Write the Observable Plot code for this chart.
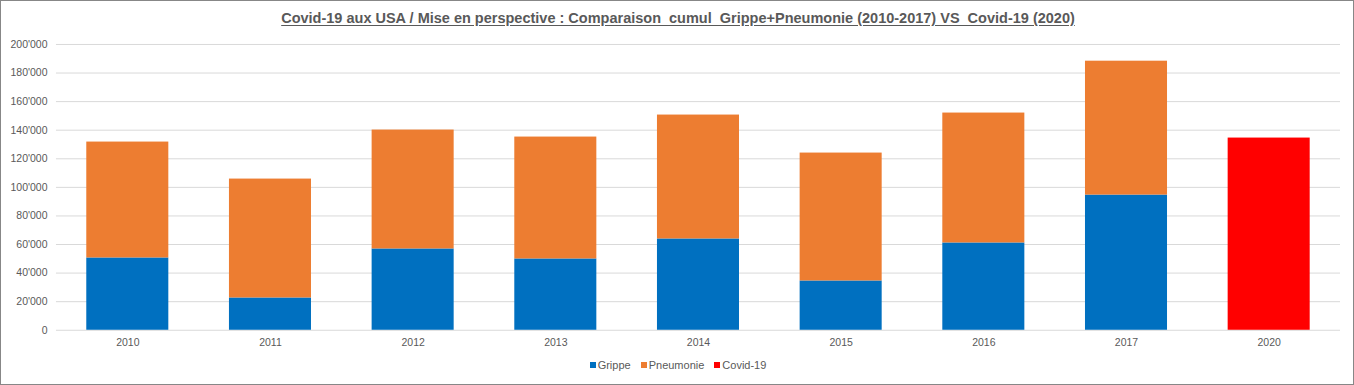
<!DOCTYPE html>
<html>
<head>
<meta charset="utf-8">
<script src="https://cdn.jsdelivr.net/npm/d3@7"></script>
<script src="https://cdn.jsdelivr.net/npm/@observablehq/plot@0.6"></script>
<style>
  html, body { margin: 0; padding: 0; background: #fff; }
  #chart {
    position: relative; width: 1354px; height: 385px; box-sizing: border-box;
    border: 1px solid #878787; overflow: hidden; background: #fff;
  }
  #title {
    position: absolute; left: 0; top: 9px; width: 1354px; text-align: center;
    font-family: "Liberation Sans Narrow", "Arial Narrow", "Liberation Sans", Arial, sans-serif;
    font-weight: bold; font-size: 14.5px; color: #595959; text-decoration: underline;
    text-underline-offset: 2px;
  }
  #plot { position: absolute; left: -1px; top: -1px; }
  #legend {
    position: absolute; left: 0; top: 358px; width: 1354px; display: flex; justify-content: center;
    font-family: "Liberation Sans", Arial, sans-serif; font-size: 11px; color: #595959;
  }
  .item { display: flex; align-items: center; margin: 0 5px; }
  .sw { width: 6px; height: 6px; margin-right: 2px; }
</style>
</head>
<body>
<div id="chart">
  <div id="title">Covid-19 aux USA / Mise en perspective : Comparaison&nbsp; cumul&nbsp; Grippe+Pneumonie (2010-2017) VS&nbsp; Covid-19 (2020)</div>
  <div id="plot"></div>
  <div id="legend"></div>
</div>
<script>
const years = ["2010","2011","2012","2013","2014","2015","2016","2017","2020"];
const series = ["Grippe","Pneumonie","Covid-19"];
const colors = ["#0070c0","#ed7d31","#ff0000"];
const grippe    = [50600, 22600, 56900, 49900, 63900, 34500, 61100, 94600, 0];
const pneumonie = [81100, 83200, 83200, 85300, 86700, 89500, 90900, 93700, 0];
const covid     = [0, 0, 0, 0, 0, 0, 0, 0, 134500];
const yTicks = [0, 20000, 40000, 60000, 80000, 100000, 120000, 140000, 160000, 180000, 200000];

const rows = [];
years.forEach((yr, i) => {
  if (grippe[i]) rows.push({year: yr, series: "Grippe", value: grippe[i]});
  if (pneumonie[i]) rows.push({year: yr, series: "Pneumonie", value: pneumonie[i]});
  if (covid[i]) rows.push({year: yr, series: "Covid-19", value: covid[i]});
});

const fmt = d3.formatLocale({decimal: ".", thousands: "'", grouping: [3], currency: ["", ""]}).format(",");

const chart = Plot.plot({
  width: 1354,
  height: 356,
  marginTop: 44,
  marginBottom: 26,
  marginLeft: 56,
  marginRight: 13,
  style: {fontFamily: "'Liberation Sans', Arial, sans-serif", fontSize: "10.5px", color: "#595959", background: "transparent"},
  x: {domain: years, paddingInner: 0.425, paddingOuter: 0.2125, round: false, label: null, tickSize: 0, tickPadding: 8},
  y: {domain: [0, 200000], ticks: yTicks, tickFormat: fmt, label: null, tickSize: 0, tickPadding: 9},
  color: {domain: series, range: colors},
  marks: [
    Plot.ruleY(yTicks, {stroke: "#d9d9d9", strokeWidth: 1}),
    Plot.barY(rows, {x: "year", y: "value", fill: "series", order: series}),
    Plot.axisX({tickSize: 0, tickPadding: 8, fill: "#595959"}),
    Plot.axisY({ticks: yTicks, tickFormat: fmt, tickSize: 0, tickPadding: 9, fill: "#595959"})
  ]
});
document.getElementById("plot").appendChild(chart);

const legend = document.getElementById("legend");
series.forEach((s, i) => {
  const it = document.createElement("div");
  it.className = "item";
  const sw = document.createElement("div");
  sw.className = "sw";
  sw.style.background = colors[i];
  const t = document.createElement("span");
  t.textContent = s;
  it.appendChild(sw); it.appendChild(t);
  legend.appendChild(it);
});
</script>
</body>
</html>
